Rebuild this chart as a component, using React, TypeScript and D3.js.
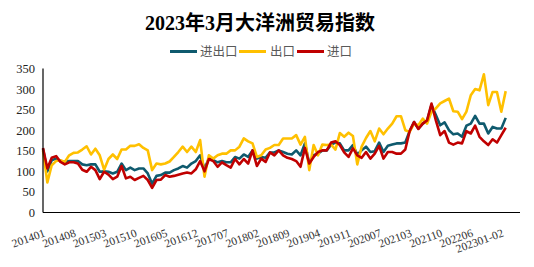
import React from "react";
import * as d3 from "d3";

const title = "2023年3月大洋洲贸易指数";
const seriesNames = ["进出口", "出口", "进口"];
const seriesColors = ["#0f5a6e", "#ffc000", "#c00000"];

function buildCategories(): string[] {
  const out: string[] = [];
  for (let y = 2014; y <= 2019; y++) for (let m = 1; m <= 12; m++) out.push(`${y}${String(m).padStart(2, "0")}`);
  for (let y = 2020; y <= 2022; y++) {
    out.push(`${y}01-02`);
    for (let m = 3; m <= 12; m++) out.push(`${y}${String(m).padStart(2, "0")}`);
  }
  out.push("202301-02", "202303");
  return out;
}
const categories = buildCategories();

const tickLabels = ["201401", "201408", "201503", "201510", "201605", "201612", "201707", "201802", "201809", "201904", "201911", "202007", "202103", "202110", "202206", "202301-02"];

const totalValues = [
  155, 100, 127, 131, 125, 123, 125, 125, 125, 117,
  115, 117, 117, 99, 100, 99, 95, 99, 119, 103,
  109, 103, 107, 107, 95, 70, 89, 91, 97, 97,
  103, 107, 113, 109, 119, 125, 139, 107, 131, 127,
  122, 125, 122, 122, 135, 131, 141, 135, 151, 131,
  135, 133, 146, 146, 151, 147, 143, 141, 151, 139,
  168, 119, 139, 143, 151, 151, 165, 170, 168, 151,
  151, 164, 141, 151, 160, 147, 149, 170, 147, 162,
  165, 168, 168, 170, 198, 220, 204, 216, 224, 261,
  237, 212, 219, 200, 190, 192, 184, 211, 216, 235,
  216, 216, 192, 208, 204, 204, 230,
];

const exportValues = [
  151, 73, 115, 125, 127, 123, 139, 145, 146, 153,
  161, 141, 155, 139, 104, 130, 141, 130, 153, 153,
  162, 162, 166, 157, 151, 103, 119, 117, 119, 124,
  135, 147, 160, 147, 160, 147, 176, 87, 139, 131,
  139, 143, 143, 151, 151, 160, 180, 173, 168, 135,
  139, 153, 157, 164, 164, 180, 180, 180, 188, 165,
  184, 103, 164, 139, 165, 164, 165, 153, 193, 184,
  194, 186, 117, 160, 181, 198, 173, 204, 190, 204,
  216, 234, 234, 200, 196, 216, 212, 228, 216, 245,
  253, 265, 271, 277, 246, 245, 227, 245, 285, 300,
  297, 336, 261, 293, 293, 245, 295,
];

const importValues = [
  157, 107, 133, 137, 123, 117, 122, 122, 119, 104,
  99, 111, 103, 81, 99, 92, 81, 87, 113, 83,
  87, 79, 84, 89, 79, 60, 79, 80, 91, 87,
  89, 92, 95, 97, 95, 105, 125, 100, 130, 125,
  111, 122, 115, 109, 130, 117, 130, 119, 151, 113,
  131, 123, 146, 139, 151, 139, 133, 130, 125, 111,
  157, 119, 135, 147, 151, 151, 170, 173, 164, 146,
  135, 156, 139, 133, 147, 131, 143, 162, 131, 147,
  147, 143, 143, 153, 198, 220, 203, 216, 224, 265,
  224, 188, 198, 170, 165, 170, 168, 198, 192, 211,
  184, 173, 164, 178, 170, 188, 206,
];

const yTicks = [0, 50, 100, 150, 200, 250, 300, 350];

const W = 534;
const H = 267;
const plotLeft = 43;
const plotRight = 520;
const lastX = 505.7;
const yBottom = 212.5;
const yTop = 68.5;

export default function App() {
  const x = d3.scalePoint<string>().domain(categories).range([plotLeft, lastX]);
  const y = d3.scaleLinear().domain([0, 350]).range([yBottom, yTop]);
  const line = d3
    .line<number>()
    .x((_, i) => x(categories[i]) as number)
    .y((d) => y(d));
  const series = [totalValues, exportValues, importValues];
  const serif = "'Liberation Serif', 'Times New Roman', 'Noto Sans CJK SC', serif";
  const cjk = "'Noto Sans CJK SC', sans-serif";

  const legendItems = [
    { x: 170, textX: 200 },
    { x: 239, textX: 270 },
    { x: 297, textX: 327 },
  ];

  return (
    <svg width={W} height={H} style={{ position: "absolute", left: 0, top: 0, background: "#fff" }}>
      <text x={260} y={30} textAnchor="middle" fontFamily={serif} fontWeight="bold" fontSize={20} fill="#000">
        {title}
      </text>
      {legendItems.map((it, i) => (
        <g key={i}>
          <line x1={it.x} x2={it.x + 27} y1={51.5} y2={51.5} stroke={seriesColors[i]} strokeWidth={3} />
          <text x={it.textX} y={56} fontFamily={cjk} fontSize={12.5} fill="#595959">
            {seriesNames[i]}
          </text>
        </g>
      ))}
      {yTicks.map((t) => (
        <text key={t} x={35} y={y(t) + 4.5} textAnchor="end" fontFamily={serif} fontSize={12.5} fill="#222">
          {t}
        </text>
      ))}
      {series.map((s, i) => (
        <path key={i} d={line(s) || ""} fill="none" stroke={seriesColors[i]} strokeWidth={2.6} strokeLinejoin="round" />
      ))}
      <line x1={plotLeft} x2={plotLeft} y1={yTop} y2={yBottom} stroke="#000" strokeWidth={1.2} />
      <line x1={plotLeft} x2={plotRight} y1={yBottom} y2={yBottom} stroke="#000" strokeWidth={1.2} />
      {tickLabels.map((lab) => {
        const px = x(lab) as number;
        return (
          <text
            key={lab}
            transform={`translate(${px + 3},236) rotate(-20)`}
            textAnchor="end"
            fontFamily={serif}
            fontSize={11.5}
            fill="#333"
          >
            {lab}
          </text>
        );
      })}
    </svg>
  );
}
